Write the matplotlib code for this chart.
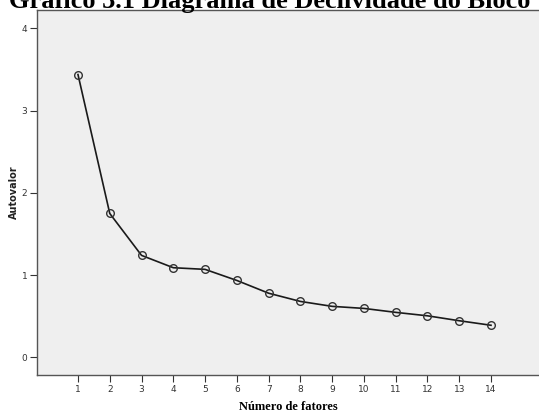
import matplotlib
matplotlib.use('Agg')
import matplotlib.pyplot as plt

# Scree plot data
fatores = [1, 2, 3, 4, 5, 6, 7, 8, 9, 10, 11, 12, 13, 14]
autovalores = [3.44, 1.75, 1.24, 1.09, 1.07, 0.935, 0.78, 0.68, 0.62, 0.595, 0.547, 0.505, 0.445, 0.39]
y_ticks = [0, 1, 2, 3, 4]

fig = plt.figure(figsize=(5.39, 4.13), dpi=100)
ax = fig.add_axes([37 / 539, 38 / 413, 1 - 37 / 539, (375 - 10) / 413])
ax.set_facecolor('#efefef')

ax.plot(fatores, autovalores, color='#1a1a1a', linewidth=1.2, marker='o',
        markersize=5.5, markerfacecolor='none', markeredgecolor='#333333',
        markeredgewidth=1.0)

ax.set_xlim(-0.29, 15.51)
ax.set_ylim(-0.215, 4.225)
ax.set_xticks(fatores)
ax.set_yticks(y_ticks)

for side in ['left', 'bottom', 'top']:
    ax.spines[side].set_color('#555555')
    ax.spines[side].set_linewidth(1.0)
ax.spines['right'].set_visible(False)

ax.tick_params(axis='both', direction='out', length=5, width=0.8, pad=2,
               color='#333333', labelsize=7, labelcolor='#333333')
for lbl in ax.get_xticklabels() + ax.get_yticklabels():
    lbl.set_fontfamily('DejaVu Sans')
    lbl.set_fontsize(6.5)

ax.set_ylabel('Autovalor', fontfamily='DejaVu Sans', fontweight='bold',
              fontsize=7, color='#222222', labelpad=2)
ax.set_xlabel('Número de fatores', fontfamily='Liberation Serif', fontweight='bold',
              fontsize=9, labelpad=5)

fig.text(0.5, 1 - 8 / 413, 'Gráfico 3.1 Diagrama de Declividade do Bloco',
         ha='center', va='baseline', fontfamily='Liberation Serif',
         fontweight='bold', fontsize=19)

fig.savefig('out.png', dpi=100)
